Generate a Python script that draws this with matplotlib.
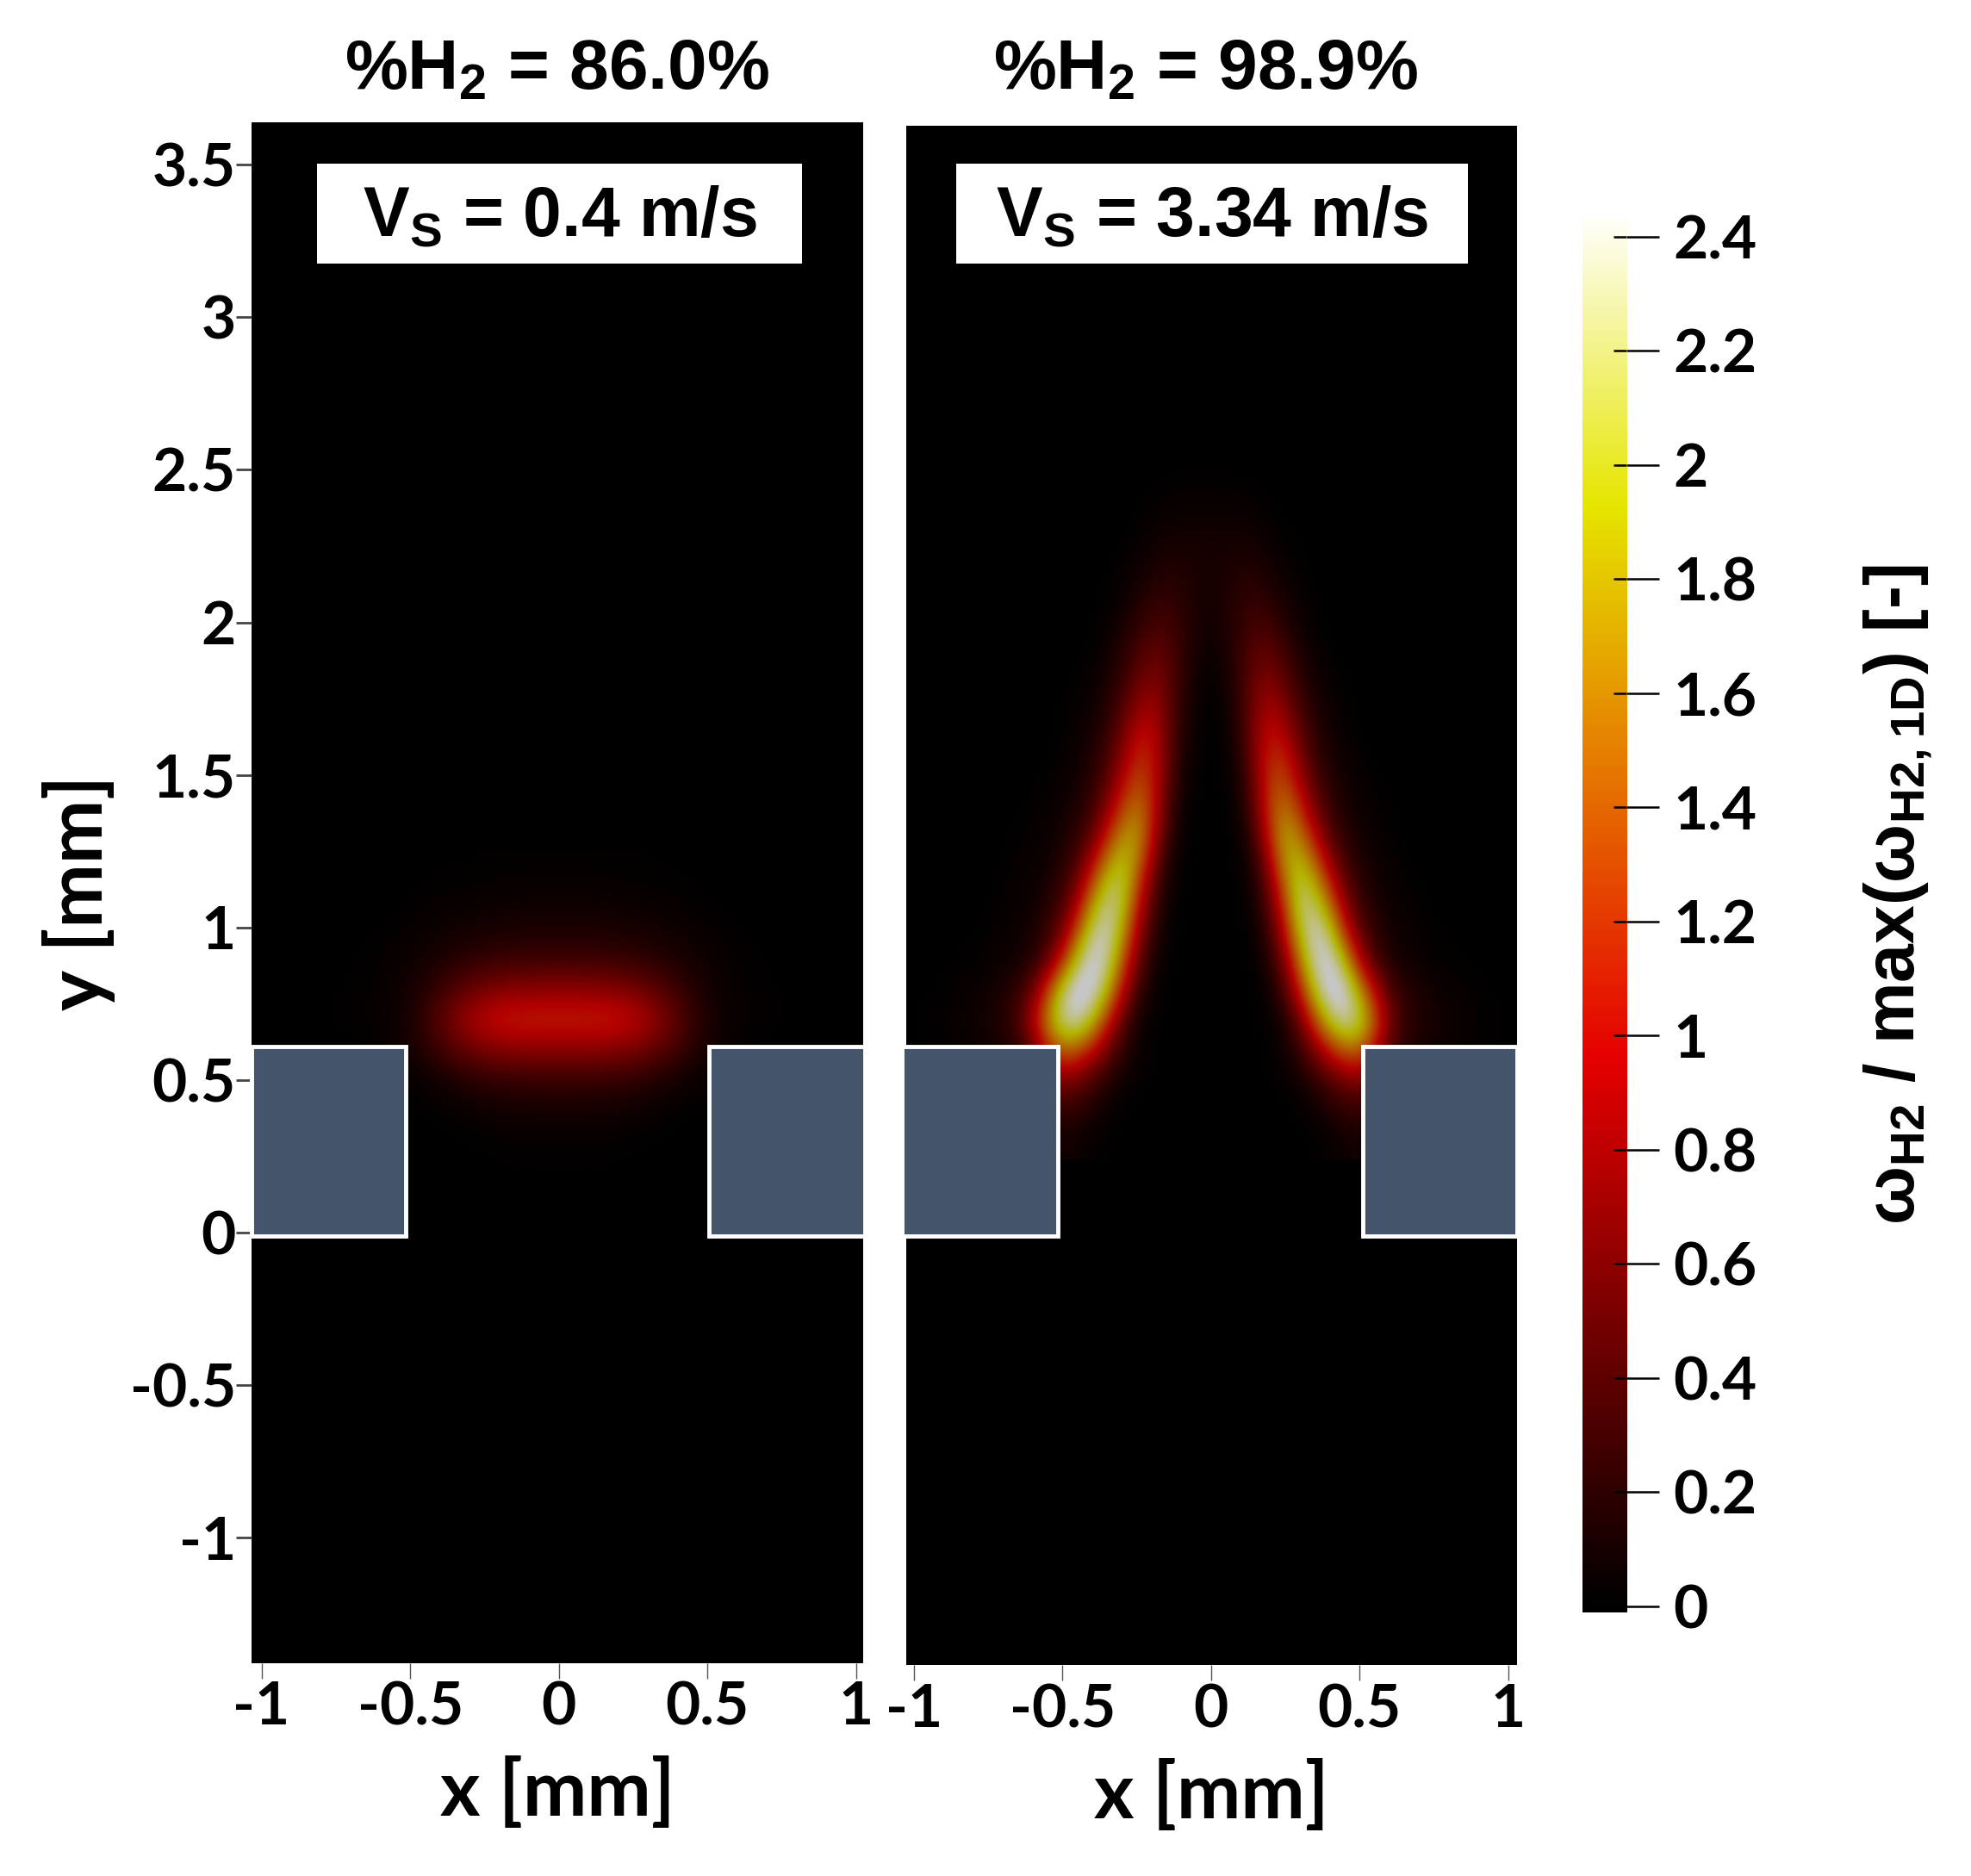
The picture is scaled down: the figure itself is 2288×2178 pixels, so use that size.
import numpy as np
import matplotlib
matplotlib.use("Agg")
import matplotlib.pyplot as plt
from matplotlib.colors import LinearSegmentedColormap
from matplotlib.patches import Rectangle

# =========================================================================
# DATA (normalised H2 reaction rate)
# =========================================================================
titles = [r"$\mathbf{\%H_2}$ = 86.0%", r"$\mathbf{\%H_2}$ = 98.9%"]
speed_labels = [r"$\mathbf{V_S}$ = 0.4 m/s", r"$\mathbf{V_S}$ = 3.34 m/s"]
x_ticks = [-1, -0.5, 0, 0.5, 1]
x_tick_labels = ["-1", "-0.5", "0", "0.5", "1"]
y_ticks = [-1, -0.5, 0, 0.5, 1, 1.5, 2, 2.5, 3, 3.5]
y_tick_labels = ["-1", "-0.5", "0", "0.5", "1", "1.5", "2", "2.5", "3", "3.5"]
cbar_ticks = [0, 0.2, 0.4, 0.6, 0.8, 1, 1.2, 1.4, 1.6, 1.8, 2, 2.2, 2.4]
cbar_tick_labels = ["0", "0.2", "0.4", "0.6", "0.8", "1", "1.2", "1.4", "1.6", "1.8", "2", "2.2", "2.4"]

# left panel: x = -0.7..0.7 step 0.1, y = 0.2..1.2 step 0.1
blob_x = [-0.7, -0.6, -0.5, -0.4, -0.3, -0.2, -0.1, 0, 0.1, 0.2, 0.3, 0.4, 0.5, 0.6, 0.7]
blob_y = [0.2, 0.3, 0.4, 0.5, 0.6, 0.7, 0.8, 0.9, 1.0, 1.1, 1.2]
blob_rate = [
    [0, 0, 0, 0, 0, .01, .01, .01, .01, .01, 0, 0, 0, 0, 0],
    [0, 0, 0, 0, .01, .02, .03, .03, .03, .02, .01, 0, 0, 0, 0],
    [0, 0, 0, .02, .05, .09, .10, .10, .10, .09, .05, .02, 0, 0, 0],
    [0, .01, .03, .09, .19, .26, .28, .28, .28, .26, .19, .09, .03, .01, 0],
    [0, .03, .10, .33, .58, .70, .73, .73, .73, .70, .58, .33, .10, .03, 0],
    [.02, .04, .13, .48, .90, 1.15, 1.18, 1.17, 1.18, 1.15, .90, .48, .13, .04, .02],
    [.01, .04, .10, .30, .55, .68, .73, .73, .73, .68, .55, .30, .10, .04, .01],
    [.01, .03, .07, .14, .22, .28, .30, .30, .30, .28, .22, .14, .07, .03, .01],
    [0, .01, .03, .07, .10, .13, .14, .14, .14, .13, .10, .07, .03, .01, 0],
    [0, 0, .01, .03, .04, .05, .06, .06, .06, .05, .04, .03, .01, 0, 0],
    [0, 0, 0, .01, .01, .02, .02, .02, .02, .02, .01, .01, 0, 0, 0],
]

# right panel: y = 0.3..2.5 step 0.1
flame_y = [0.3, 0.4, 0.5, 0.6, 0.7, 0.8, 0.9, 1.0, 1.1, 1.2, 1.3, 1.4, 1.5, 1.6, 1.7, 1.8, 1.9, 2.0, 2.1, 2.2, 2.3, 2.4, 2.5]
# x = -0.95..-0.05 step 0.05
flame_left_x = [-.95, -.90, -.85, -.80, -.75, -.70, -.65, -.60, -.55, -.50, -.45, -.40, -.35, -.30, -.25, -.20, -.15, -.10, -.05]
flame_left_rate = [
    [0, 0, 0, 0, 0, 0, 0, 0, 0, .10, .07, .03, .01, 0, 0, 0, 0, 0, 0],
    [0, 0, 0, 0, 0, 0, 0, 0, 0, .25, .20, .12, .05, .01, 0, 0, 0, 0, 0],
    [0, 0, 0, 0, 0, 0, 0, 0, .55, .60, .50, .35, .18, .07, .02, 0, 0, 0, 0],
    [.01, .02, .04, .05, .08, .12, .20, .50, 1.00, 1.40, 1.30, .95, .55, .25, .08, .02, 0, 0, 0],
    [.02, .03, .05, .08, .12, .20, .38, .90, 1.70, 2.30, 2.40, 1.95, 1.20, .50, .13, .02, 0, 0, 0],
    [.01, .02, .04, .06, .09, .16, .28, .58, 1.30, 2.20, 2.65, 2.55, 1.95, 1.05, .36, .08, .01, 0, 0],
    [0, .01, .01, .02, .04, .07, .11, .20, .50, 1.15, 2.05, 2.55, 2.35, 1.50, .65, .17, .02, 0, 0],
    [0, 0, .01, .01, .03, .04, .07, .13, .28, .60, 1.35, 2.20, 2.45, 1.90, .95, .32, .06, 0, 0],
    [0, 0, 0, 0, 0, .03, .05, .08, .17, .35, .80, 1.65, 2.25, 2.15, 1.25, .50, .10, .01, 0],
    [0, 0, 0, 0, 0, .02, .04, .05, .10, .22, .47, 1.05, 1.80, 2.10, 1.60, .75, .18, .02, 0],
    [0, 0, 0, 0, 0, 0, .03, .04, .07, .13, .27, .55, 1.15, 1.75, 1.80, 1.10, .35, .05, 0],
    [0, 0, 0, 0, 0, 0, 0, .03, .04, .08, .16, .33, .70, 1.25, 1.60, 1.20, .50, .09, .01],
    [0, 0, 0, 0, 0, 0, 0, 0, .03, .05, .10, .22, .45, .90, 1.30, 1.15, .58, .14, .02],
    [0, 0, 0, 0, 0, 0, 0, 0, 0, .03, .07, .15, .32, .65, 1.08, 1.08, .62, .20, .04],
    [0, 0, 0, 0, 0, 0, 0, 0, 0, .02, .04, .10, .22, .47, .80, .92, .60, .24, .06],
    [0, 0, 0, 0, 0, 0, 0, 0, 0, 0, .03, .06, .14, .32, .55, .72, .55, .26, .09],
    [0, 0, 0, 0, 0, 0, 0, 0, 0, 0, 0, .03, .09, .20, .38, .53, .48, .28, .12],
    [0, 0, 0, 0, 0, 0, 0, 0, 0, 0, 0, 0, .05, .12, .24, .35, .38, .26, .15],
    [0, 0, 0, 0, 0, 0, 0, 0, 0, 0, 0, 0, .02, .06, .14, .22, .26, .22, .15],
    [0, 0, 0, 0, 0, 0, 0, 0, 0, 0, 0, 0, 0, .03, .07, .12, .16, .17, .14],
    [0, 0, 0, 0, 0, 0, 0, 0, 0, 0, 0, 0, 0, 0, .03, .06, .09, .10, .10],
    [0, 0, 0, 0, 0, 0, 0, 0, 0, 0, 0, 0, 0, 0, 0, .03, .04, .05, .05],
    [0, 0, 0, 0, 0, 0, 0, 0, 0, 0, 0, 0, 0, 0, 0, 0, 0, .01, .01],
]
# x = 0..0.95 step 0.05
flame_right_x = [0, .05, .10, .15, .20, .25, .30, .35, .40, .45, .50, .55, .60, .65, .70, .75, .80, .85, .90, .95]
flame_right_rate = [
    [0, 0, 0, 0, 0, 0, 0, .01, .03, .07, .10, 0, 0, 0, 0, 0, 0, 0, 0, 0],
    [0, 0, 0, 0, 0, 0, .02, .06, .14, .22, .25, .10, .02, 0, 0, 0, 0, 0, 0, 0],
    [0, 0, 0, 0, 0, .03, .08, .20, .36, .52, .60, .35, .12, .03, 0, 0, 0, 0, 0, 0],
    [0, 0, 0, 0, .03, .10, .27, .60, 1.00, 1.35, 1.40, .95, .42, .20, .12, .07, .05, .04, .02, .01],
    [0, 0, 0, 0, .03, .15, .55, 1.30, 2.00, 2.40, 2.20, 1.50, .70, .30, .19, .12, .08, .05, .03, .02],
    [0, 0, 0, .01, .10, .42, 1.10, 2.00, 2.60, 2.55, 1.85, 1.05, .45, .24, .15, .09, .06, .04, .02, .01],
    [0, 0, 0, .03, .20, .70, 1.60, 2.40, 2.55, 1.95, 1.00, .42, .18, .10, .06, .03, .02, .01, .01, 0],
    [0, 0, 0, .07, .36, 1.05, 2.00, 2.50, 2.10, 1.20, .52, .24, .12, .07, .04, .02, .01, .01, 0, 0],
    [0, 0, .01, .12, .55, 1.35, 2.25, 2.10, 1.50, .72, .32, .15, .08, .04, .03, 0, 0, 0, 0, 0],
    [0, 0, .02, .20, .80, 1.70, 2.05, 1.65, .92, .42, .20, .10, .05, .03, 0, 0, 0, 0, 0, 0],
    [0, 0, .05, .38, 1.15, 1.85, 1.65, 1.05, .50, .25, .12, .06, .03, 0, 0, 0, 0, 0, 0, 0],
    [0, .01, .10, .55, 1.30, 1.60, 1.20, .65, .30, .15, .07, .04, .02, 0, 0, 0, 0, 0, 0, 0],
    [0, .02, .16, .65, 1.25, 1.30, .85, .42, .20, .10, .05, .02, 0, 0, 0, 0, 0, 0, 0, 0],
    [0, .04, .22, .72, 1.12, 1.05, .60, .28, .13, .06, .02, 0, 0, 0, 0, 0, 0, 0, 0, 0],
    [0, .06, .27, .68, .95, .75, .42, .20, .09, .03, 0, 0, 0, 0, 0, 0, 0, 0, 0, 0],
    [.02, .10, .29, .60, .72, .52, .28, .12, .05, .02, 0, 0, 0, 0, 0, 0, 0, 0, 0, 0],
    [.05, .13, .30, .50, .52, .34, .17, .07, .02, 0, 0, 0, 0, 0, 0, 0, 0, 0, 0, 0],
    [.09, .16, .27, .38, .33, .20, .09, .03, 0, 0, 0, 0, 0, 0, 0, 0, 0, 0, 0, 0],
    [.12, .16, .23, .26, .20, .11, .05, .01, 0, 0, 0, 0, 0, 0, 0, 0, 0, 0, 0, 0],
    [.12, .14, .17, .15, .10, .05, .02, 0, 0, 0, 0, 0, 0, 0, 0, 0, 0, 0, 0, 0],
    [.10, .10, .10, .08, .05, .02, 0, 0, 0, 0, 0, 0, 0, 0, 0, 0, 0, 0, 0, 0],
    [.05, .05, .05, .03, .01, 0, 0, 0, 0, 0, 0, 0, 0, 0, 0, 0, 0, 0, 0, 0],
    [.01, .01, 0, 0, 0, 0, 0, 0, 0, 0, 0, 0, 0, 0, 0, 0, 0, 0, 0, 0],
]

# solid wall sections (x0, x1, y0, y1) for each panel
left_blocks = [(-1.034, -0.515, -0.012, 0.61), (0.505, 1.03, -0.012, 0.61)]
right_blocks = [(-1.04, -0.515, -0.002, 0.62), (0.51, 1.03, -0.002, 0.62)]

# =========================================================================
# SETUP
# =========================================================================
plt.rcParams['font.family'] = ['Lato', 'Liberation Sans', 'DejaVu Sans']
plt.rcParams['mathtext.fontset'] = 'custom'
plt.rcParams['mathtext.bf'] = 'Liberation Sans:bold'
plt.rcParams['mathtext.rm'] = 'Liberation Sans:bold'
plt.rcParams['mathtext.default'] = 'bf'

W, H = 2288, 2178
S = W / 1568  # layout numbers below are taken from the 1568 wide view
fig = plt.figure(figsize=(W / 100, H / 100), dpi=100, facecolor='white')


def add_ax(x0, y0, x1, y1):
    return fig.add_axes([x0 * S / W, 1 - y1 * S / H, (x1 - x0) * S / W, (y1 - y0) * S / H])


def fx(x):
    return x * S / W


def fy(y):
    return 1 - y * S / H


bar_nodes = [(0, (0, 0, 0)), (0.394, (0.9, 0, 0)), (0.79, (0.9, 0.9, 0)), (1, (1, 1, 1))]
bar_cmap = LinearSegmentedColormap.from_list('blackbody', bar_nodes, N=512)
# panels look dimmer than the colour bar
panel_nodes = [(v, tuple(0.78 * c for c in col)) for v, col in bar_nodes]
panel_cmap = LinearSegmentedColormap.from_list('blackbody_dim', panel_nodes, N=512)

flame_rate = np.hstack([np.array(flame_left_rate), np.array(flame_right_rate)])
flame_x = flame_left_x + flame_right_x


def draw_field(ax, xs, ys, rate):
    dx = (xs[-1] - xs[0]) / (len(xs) - 1) / 2
    dy = (ys[-1] - ys[0]) / (len(ys) - 1) / 2
    ax.imshow(np.array(rate), origin='lower', cmap=panel_cmap, vmin=0, vmax=2.44,
              extent=[xs[0] - dx, xs[-1] + dx, ys[0] - dy, ys[-1] + dy],
              interpolation='bicubic', aspect='auto')


# =========================================================================
# PANELS
# =========================================================================
ax1 = add_ax(200, 97, 687, 1323)
ax2 = add_ax(721, 100, 1207, 1325)
limits = [((-1.034, 1.025), (-1.41, 3.64)), ((-1.025, 1.03), (-1.41, 3.64))]
fields = [(blob_x, blob_y, blob_rate), (flame_x, flame_y, flame_rate)]
blocks = [left_blocks, right_blocks]

for i, ax in enumerate([ax1, ax2]):
    ax.set_facecolor('black')
    draw_field(ax, *fields[i])
    ax.set_xlim(*limits[i][0])
    ax.set_ylim(*limits[i][1])
    for s in ax.spines.values():
        s.set_visible(False)
    for bx0, bx1, by0, by1 in blocks[i]:
        ax.add_patch(Rectangle((bx0, by0), bx1 - bx0, by1 - by0, facecolor='#44546a',
                               edgecolor='white', linewidth=3.5, clip_on=False, zorder=4))
    ax.set_xticks(x_ticks)
    ax.set_xticklabels(x_tick_labels, fontsize=50, fontweight='bold')
    ax.tick_params(axis='x', length=13, width=1, color='#555555', pad=2)
    ax.set_xlabel("x [mm]", fontsize=64, fontweight='bold', labelpad=18)

ax1.set_yticks(y_ticks)
ax1.set_yticklabels(y_tick_labels, fontsize=50, fontweight='bold')
ax1.tick_params(axis='y', length=13, width=2, color='#444444', pad=0)
ax2.set_yticks([])
ax1.set_ylabel("y [mm]", fontsize=64, fontweight='bold', labelpad=12)

title_x = [443, 959]
box_spans = [(252, 638), (761, 1168)]
for i in range(2):
    fig.text(fx(title_x[i]), fy(56), titles[i], ha='center', va='center', fontsize=59,
             fontweight='bold', family='Liberation Sans')
    b0, b1 = box_spans[i]
    fig.add_artist(Rectangle((fx(b0), fy(210)), fx(b1) - fx(b0), fy(130) - fy(210),
                             transform=fig.transFigure, facecolor='white', edgecolor='none', zorder=5))
    fig.text(fx((b0 + b1) / 2), fy(174), speed_labels[i], ha='center', va='center', fontsize=58,
             fontweight='bold', family='Liberation Sans', zorder=6)

# =========================================================================
# COLOUR BAR
# =========================================================================
cax = add_ax(1259, 170, 1294, 1283)
cbar_lo, cbar_hi = -0.011, 2.44
cax.imshow(np.linspace(cbar_lo, cbar_hi, 1024)[:, None], origin='lower', aspect='auto',
           cmap=bar_cmap, vmin=0, vmax=2.44, extent=[0, 1, cbar_lo, cbar_hi])
cax.set_xticks([])
for s in cax.spines.values():
    s.set_visible(False)
cax.yaxis.tick_right()
cax.set_yticks(cbar_ticks)
cax.set_yticklabels(cbar_tick_labels, fontsize=50, fontweight='bold')
cax.tick_params(axis='y', length=27, width=1.8, color='black', pad=12)
cax.hlines(cbar_ticks, 0.7, 1, transform=cax.get_yaxis_transform(), color='black', linewidth=1.8)

fig.text(fx(1510), fy(712), r"ω$\mathbf{_{H2}}$ / max(ω$\mathbf{_{H2,1D}}$) [-]", rotation=90,
         ha='center', va='center', fontsize=58, fontweight='bold', family='Liberation Sans')

fig.savefig("out.png", dpi=100, facecolor='white')
